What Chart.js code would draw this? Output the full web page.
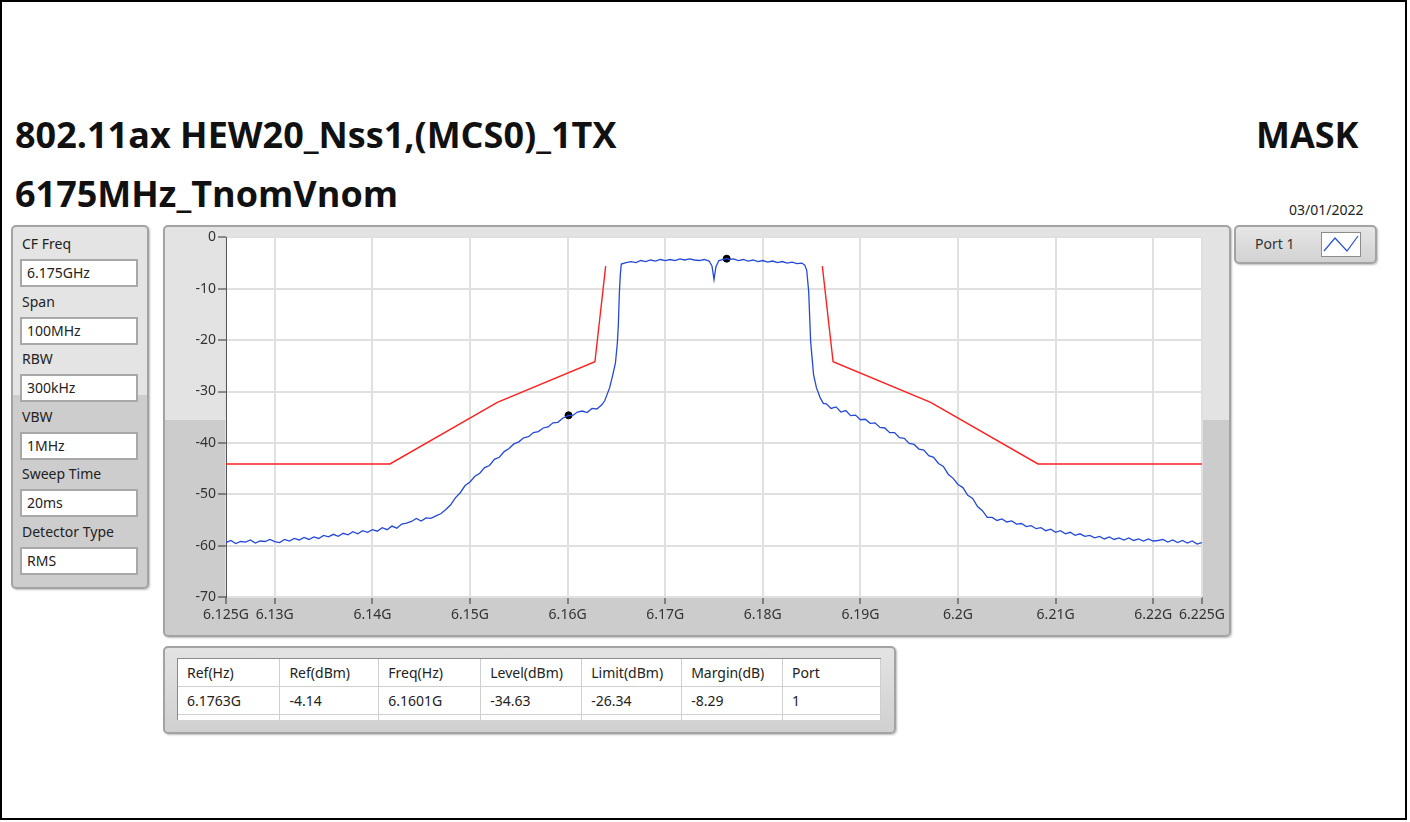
<!DOCTYPE html>
<html>
<head>
<meta charset="utf-8">
<script src="https://cdn.jsdelivr.net/npm/chart.js@4.4.1/dist/chart.umd.min.js"></script>
<style>
  html, body { margin: 0; padding: 0; background: #fff; }
  body { width: 1410px; height: 822px; position: relative; overflow: hidden;
         font-family: "Noto Sans", "Open Sans", sans-serif; color: #222; }
  .frame { position: absolute; left: 0; top: 0; width: 1407px; height: 820px;
           border: 2px solid #000; box-sizing: border-box; }
  .title { position: absolute; font-family: "Open Sans", sans-serif; font-weight: 700;
           font-size: 36px; line-height: 42px; color: #111; white-space: nowrap; }
  .date { position: absolute; left: 1289px; top: 200px; font-size: 14px; color: #222; }
  .panel { position: absolute; border: 2px solid #a3a3a3; border-radius: 5px;
           box-sizing: border-box; box-shadow: 1px 1px 2px #bdbdbd; }
  .lbl { position: absolute; left: 9px; font-size: 14px; line-height: 20px; color: #222; }
  .box { position: absolute; left: 7px; width: 118px; height: 28px; background: #fff;
         border: 2px solid #a8a8a8; box-sizing: border-box; font-size: 14px;
         line-height: 24px; padding-left: 5px; color: #222; }
  table { border-collapse: collapse; table-layout: fixed; }
  td { border-right: 1px solid #cfcfcf; border-bottom: 1px solid #cfcfcf; height: 27px;
       padding: 0 0 0 9px; font-size: 14px; color: #222; white-space: nowrap; }
</style>
</head>
<body>
<div class="frame"></div>

<div class="title" style="left:15px; top:114px;">802.11ax HEW20_Nss1,(MCS0)_1TX</div>
<div class="title" style="left:1256px; top:114px;">MASK</div>
<div class="title" style="left:15px; top:173px;">6175MHz_TnomVnom</div>
<div class="date">03/01/2022</div>

<!-- analyzer settings -->
<div class="panel" id="settings" style="left:11px; top:225px; width:138px; height:364px;
     background: linear-gradient(#e4e4e4 0, #e4e4e4 168px, #cdcdcd 168px);"></div>

<!-- graph -->
<div class="panel" style="left:163px; top:225px; width:1068px; height:412px;
     background: linear-gradient(#e3e3e3 0, #e3e3e3 193px, #cccccc 193px);">
  <canvas id="maskChart" width="1064" height="408" style="position:absolute; left:0; top:0;"></canvas>
</div>

<!-- plot legend -->
<div class="panel" style="left:1234px; top:225px; width:143px; height:39px;
     background: linear-gradient(#e6e6e6, #d2d2d2);">
  <div style="position:absolute; left:19px; top:7px; font-size:14px; color:#333;">Port 1</div>
  <svg style="position:absolute; left:85px; top:5px;" width="40" height="25">
    <rect x="0.5" y="0.5" width="39" height="24" fill="#fff" stroke="#8c8c8c"/>
    <polyline points="3,19 14,6 26,19 37,4" fill="none" stroke="#2a50d8" stroke-width="1.2"/>
  </svg>
</div>

<!-- marker table -->
<div class="panel" style="left:163px; top:646px; width:733px; height:88px;
     background: linear-gradient(#e3e3e3, #d0d0d0);">
  <div style="position:absolute; left:12px; top:10px; width:703px; height:61px; overflow:hidden;
       background:#fff; border-left:1px solid #8a8a8a; border-top:1px solid #8a8a8a;">
    <table id="markerTable"></table>
  </div>
</div>

<script>
// sweep settings shown in the side panel
const settingNames = ['CF Freq', 'Span', 'RBW', 'VBW', 'Sweep Time', 'Detector Type'];
const settingValues = ['6.175GHz', '100MHz', '300kHz', '1MHz', '20ms', 'RMS'];

// frequency axis, MHz
const xTicks = [6125, 6130, 6140, 6150, 6160, 6170, 6180, 6190, 6200, 6210, 6220, 6225];

// spectral mask limit (dBm), lower and upper side
const maskLowFreq = [6125, 6141.8, 6152.8, 6162.8, 6163.9];
const maskLowLevel = [-44.1, -44.1, -32.1, -24.2, -5.6];
const maskHighFreq = [6186.1, 6187.2, 6197.2, 6208.2, 6225];
const maskHighLevel = [-5.6, -24.2, -32.1, -44.1, -44.1];

// measured trace, port 1
const traceFreq = [
  6125.0, 6125.5, 6126.0, 6126.5, 6127.0, 6127.5, 6128.0, 6128.5, 6129.0, 6129.5,
  6130.0, 6130.5, 6131.0, 6131.5, 6132.0, 6132.5, 6133.0, 6133.5, 6134.0, 6134.5,
  6135.0, 6135.5, 6136.0, 6136.5, 6137.0, 6137.5, 6138.0, 6138.5, 6139.0, 6139.5,
  6140.0, 6140.5, 6141.0, 6141.5, 6142.0, 6142.5, 6143.0, 6143.5, 6144.0, 6144.5,
  6145.0, 6145.5, 6146.0, 6146.5, 6147.0, 6147.5, 6148.0, 6148.5, 6149.0, 6149.5,
  6150.0, 6150.5, 6151.0, 6151.5, 6152.0, 6152.5, 6153.0, 6153.5, 6154.0, 6154.5,
  6155.0, 6155.5, 6156.0, 6156.5, 6157.0, 6157.5, 6158.0, 6158.5, 6159.0, 6159.5,
  6160.1, 6160.5, 6161.0, 6161.5, 6162.0, 6162.5, 6163.0, 6163.5, 6163.8, 6164.0,
  6164.3, 6164.6, 6164.9, 6165.1, 6165.2, 6165.3, 6165.4, 6165.5,
  6166.0, 6166.5, 6167.0, 6167.5, 6168.0, 6168.5, 6169.0, 6169.5, 6170.0, 6170.5,
  6171.0, 6171.5, 6172.0, 6172.5, 6173.0, 6173.5, 6174.0, 6174.5, 6174.8, 6175.0,
  6175.2, 6175.5, 6176.0, 6176.3, 6176.6, 6177.0, 6177.5, 6178.0, 6178.5, 6179.0,
  6179.5, 6180.0, 6180.5, 6181.0, 6181.5, 6182.0, 6182.5, 6183.0, 6183.5, 6184.0,
  6184.3, 6184.5, 6184.7, 6184.9, 6185.2, 6185.5, 6185.9, 6186.2, 6186.5, 6187.0,
  6187.5, 6188.0, 6188.5, 6189.0, 6189.5, 6190.0, 6190.5, 6191.0, 6191.5, 6192.0,
  6192.5, 6193.0, 6193.5, 6194.0, 6194.5, 6195.0, 6195.5, 6196.0, 6196.5, 6197.0,
  6197.5, 6198.0, 6198.5, 6199.0, 6199.5, 6200.0, 6200.5, 6201.0, 6201.5, 6202.0,
  6202.5, 6203.0, 6203.5, 6204.0, 6204.5, 6205.0, 6205.5, 6206.0, 6206.5, 6207.0,
  6207.5, 6208.0, 6208.5, 6209.0, 6209.5, 6210.0, 6210.5, 6211.0, 6211.5, 6212.0,
  6212.5, 6213.0, 6213.5, 6214.0, 6214.5, 6215.0, 6215.5, 6216.0, 6216.5, 6217.0,
  6217.5, 6218.0, 6218.5, 6219.0, 6219.5, 6220.0, 6220.5, 6221.0, 6221.5, 6222.0,
  6222.5, 6223.0, 6223.5, 6224.0, 6224.5, 6225.0
];
const traceLevel = [
  -59.4, -59.0, -59.6, -59.2, -59.3, -58.9, -59.5, -59.1, -59.2, -58.8,
  -59.2, -59.4, -58.8, -59.1, -58.6, -58.9, -58.4, -58.8, -58.3, -58.6,
  -58.0, -58.3, -57.8, -58.2, -57.6, -57.9, -57.3, -57.7, -57.1, -57.4,
  -56.9, -57.2, -56.5, -56.9, -56.2, -56.6, -55.8, -55.6, -55.3, -54.7,
  -55.2, -54.6, -54.7, -54.2, -53.8, -53.0, -52.1, -50.7, -49.7, -48.3,
  -47.6, -46.5, -45.9, -44.8, -44.4, -43.2, -42.8, -41.7, -41.1, -40.2,
  -39.8, -39.0, -38.8, -38.0, -37.8, -37.1, -36.9, -36.1, -36.0, -35.2,
  -34.63, -34.7, -34.0, -33.8, -34.1, -33.3, -33.4, -32.6, -31.8, -30.8,
  -29.3, -27.0, -24.5, -20.5, -17.0, -11.0, -7.3, -5.2,
  -4.9, -4.7, -4.9, -4.5, -4.7, -4.4, -4.6, -4.3, -4.5, -4.3,
  -4.5, -4.2, -4.4, -4.2, -4.4, -4.5, -4.3, -4.6, -5.6, -8.2,
  -5.7, -4.5, -4.3, -4.14, -4.3, -4.2, -4.5, -4.3, -4.6, -4.4,
  -4.7, -4.5, -4.8, -4.6, -4.9, -4.7, -5.0, -4.8, -5.1, -5.0,
  -5.4, -6.4, -10.5, -20.2, -26.7, -29.3, -31.3, -32.3, -32.4, -33.3,
  -33.0, -34.0, -33.7, -34.7, -34.6, -35.5, -35.4, -36.2, -36.1, -37.0,
  -37.1, -38.0, -38.0, -39.0, -39.1, -40.1, -40.3, -41.2, -41.4, -42.5,
  -42.8, -44.0, -44.6, -46.1, -46.9, -48.1, -48.7, -50.2, -50.8, -52.4,
  -53.2, -54.5, -54.5, -55.1, -54.8, -55.4, -55.2, -55.8, -55.7, -56.3,
  -56.1, -56.7, -56.5, -57.1, -56.8, -57.4, -57.1, -57.7, -57.4, -58.0,
  -57.7, -58.2, -58.0, -58.5, -58.2, -58.7, -58.3, -58.8, -58.5, -58.9,
  -58.5, -59.0, -58.7, -59.1, -58.7, -59.1, -59.0, -58.8, -59.3, -58.9,
  -59.4, -59.0, -59.5, -59.1, -59.7, -59.4
];

// reference peak and worst margin markers
const markerFreq = [6176.3, 6160.1];
const markerLevel = [-4.14, -34.63];

// marker readout table
const tableHeader = ['Ref(Hz)', 'Ref(dBm)', 'Freq(Hz)', 'Level(dBm)', 'Limit(dBm)', 'Margin(dB)', 'Port'];
const tableRow = ['6.1763G', '-4.14', '6.1601G', '-34.63', '-26.34', '-8.29', '1'];
const colWidths = [102, 99, 102, 101, 100, 101, 98];

// build side panel
const settings = document.getElementById('settings');
settingNames.forEach((name, i) => {
    const top = i * 57.5;
    settings.insertAdjacentHTML('beforeend',
        '<div class="lbl" style="top:' + (7 + top) + 'px">' + name + '</div>' +
        '<div class="box" style="top:' + (32 + top) + 'px">' + settingValues[i] + '</div>');
});

// build marker table
const tbl = document.getElementById('markerTable');
let html = '<colgroup>' + colWidths.map(w => '<col style="width:' + w + 'px">').join('') + '</colgroup>';
html += '<tr>' + tableHeader.map(t => '<td>' + t + '</td>').join('') + '</tr>';
html += '<tr>' + tableRow.map(t => '<td>' + t + '</td>').join('') + '</tr>';
html += '<tr>' + tableRow.map(() => '<td></td>').join('') + '</tr>';
tbl.innerHTML = html;

function toPoints(xs, ys) {
    return xs.map((x, i) => ({ x: x, y: ys[i] }));
}

// white plotting area behind the traces
const plotBackground = {
    id: 'plotBackground',
    beforeDraw(chart) {
        const a = chart.chartArea;
        const c = chart.ctx;
        c.save();
        c.fillStyle = '#ffffff';
        c.fillRect(a.left, a.top, a.right - a.left, a.bottom - a.top);
        c.restore();
    }
};

let myChart;
function loadChart() {
    const ctx = document.getElementById('maskChart').getContext('2d');
    if (myChart) {
        myChart.destroy();
    }
    myChart = new Chart(ctx, {
        type: 'line',
        data: {
            datasets: [{
                label: 'Limit low',
                data: toPoints(maskLowFreq, maskLowLevel),
                borderColor: '#ff2020',
                borderWidth: 1.4,
                pointRadius: 0,
                tension: 0,
            }, {
                label: 'Limit high',
                data: toPoints(maskHighFreq, maskHighLevel),
                borderColor: '#ff2020',
                borderWidth: 1.4,
                pointRadius: 0,
                tension: 0,
            }, {
                label: 'Port 1',
                data: toPoints(traceFreq, traceLevel),
                borderColor: '#2449d8',
                borderWidth: 1.3,
                pointRadius: 0,
                tension: 0,
            }, {
                label: 'Markers',
                data: toPoints(markerFreq, markerLevel),
                showLine: false,
                pointRadius: 3.5,
                pointBackgroundColor: '#000',
                pointBorderColor: '#000',
            }]
        },
        options: {
            responsive: false,
            animation: false,
            layout: { padding: { left: 0, top: 9, right: 27, bottom: 0 } },
            scales: {
                x: {
                    type: 'linear',
                    min: 6125,
                    max: 6225,
                    afterBuildTicks: (scale) => {
                        scale.ticks = xTicks.map(v => ({ value: v }));
                    },
                    afterFit: (scale) => {
                        scale.height = 38;
                        scale.paddingLeft = 0;
                        scale.paddingRight = 0;
                    },
                    grid: {
                        color: '#e0e0e0',
                        lineWidth: 2,
                        tickColor: '#333',
                        tickLength: 7,
                        tickWidth: 1,
                    },
                    border: { display: false },
                    ticks: {
                        autoSkip: false,
                        maxRotation: 0,
                        padding: 3,
                        color: '#333',
                        font: { family: 'Noto Sans', size: 14 },
                        callback: (v) => (v / 1000) + 'G',
                    }
                },
                y: {
                    min: -70,
                    max: 0,
                    afterFit: (scale) => {
                        scale.width = 61;
                    },
                    grid: {
                        color: '#e0e0e0',
                        lineWidth: 2,
                        tickColor: '#333',
                        tickLength: 8,
                        tickWidth: 1,
                    },
                    border: { display: true, color: '#555', width: 1 },
                    ticks: {
                        stepSize: 10,
                        padding: 2,
                        color: '#333',
                        font: { family: 'Noto Sans', size: 14 },
                    }
                }
            },
            plugins: {
                legend: { display: false },
                tooltip: { enabled: false },
                title: { display: false }
            }
        },
        plugins: [plotBackground]
    });
}

loadChart();
</script>
</body>
</html>
